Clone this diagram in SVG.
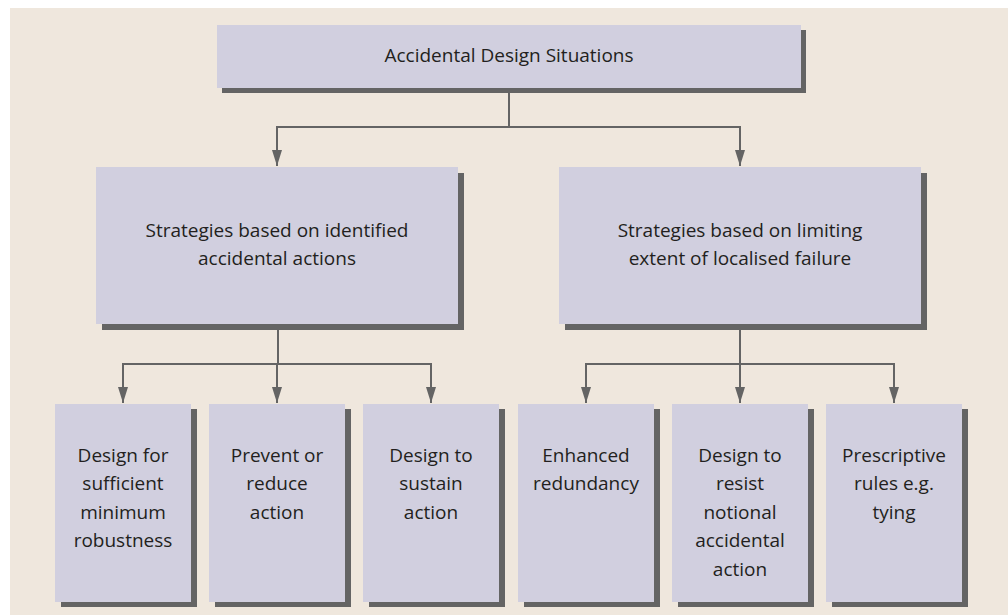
<svg xmlns="http://www.w3.org/2000/svg" width="1008" height="615" viewBox="0 0 1008 615">
  <style>
    .box { fill: #d1cfdf; }
    .shadow { fill: #646464; }
    .lbl { font-family: "Open Sans", "Noto Sans", "Liberation Sans", sans-serif; font-size: 19px; fill: #231f20; text-anchor: middle; }
    .conn { fill: none; stroke: #646464; stroke-width: 2; }
  </style>
  <defs>
    <marker id="ah" markerUnits="userSpaceOnUse" markerWidth="16" markerHeight="10" refX="16" refY="5" orient="auto">
      <path d="M0,0 L16,5 L0,10 Z" fill="#646464"/>
    </marker>
  </defs>
  <rect x="10" y="8" width="998" height="607" fill="#efe7dd"/>

  <g id="connectors">
    <path class="conn" d="M509,93 V127"/>
    <path class="conn" d="M509,127 H277 V166" marker-end="url(#ah)"/>
    <path class="conn" d="M509,127 H740 V166" marker-end="url(#ah)"/>
    <path class="conn" d="M278,330 V364"/>
    <path class="conn" d="M278,364 H123 V403" marker-end="url(#ah)"/>
    <path class="conn" d="M277,364 V403" marker-end="url(#ah)"/>
    <path class="conn" d="M278,364 H431 V403" marker-end="url(#ah)"/>
    <path class="conn" d="M740,330 V364"/>
    <path class="conn" d="M740,364 H586 V403" marker-end="url(#ah)"/>
    <path class="conn" d="M740,364 V403" marker-end="url(#ah)"/>
    <path class="conn" d="M740,364 H894 V403" marker-end="url(#ah)"/>
  </g>

  <g id="n-top">
    <rect class="shadow" x="222" y="30" width="584" height="63"/>
    <rect class="box" x="217" y="25" width="584" height="63"/>
    <text class="lbl" x="509" y="62">Accidental Design Situations</text>
  </g>

  <g id="n-identified">
    <rect class="shadow" x="102" y="173" width="362" height="157"/>
    <rect class="box" x="96" y="167" width="362" height="157"/>
    <text class="lbl" x="277" y="237">Strategies based on identified</text>
    <text class="lbl" x="277" y="265">accidental actions</text>
  </g>

  <g id="n-limiting">
    <rect class="shadow" x="565" y="173" width="362" height="157"/>
    <rect class="box" x="559" y="167" width="362" height="157"/>
    <text class="lbl" x="740" y="237">Strategies based on limiting</text>
    <text class="lbl" x="740" y="265">extent of localised failure</text>
  </g>

  <g id="n-robustness">
    <rect class="shadow" x="61" y="409" width="136" height="198"/>
    <rect class="box" x="55" y="404" width="136" height="198"/>
    <text class="lbl" x="123" y="462">Design for</text>
    <text class="lbl" x="123" y="490.4">sufficient</text>
    <text class="lbl" x="123" y="518.8">minimum</text>
    <text class="lbl" x="123" y="547.2">robustness</text>
  </g>

  <g id="n-prevent">
    <rect class="shadow" x="215" y="409" width="136" height="198"/>
    <rect class="box" x="209" y="404" width="136" height="198"/>
    <text class="lbl" x="277" y="462">Prevent or</text>
    <text class="lbl" x="277" y="490.4">reduce</text>
    <text class="lbl" x="277" y="518.8">action</text>
  </g>

  <g id="n-sustain">
    <rect class="shadow" x="369" y="409" width="136" height="198"/>
    <rect class="box" x="363" y="404" width="136" height="198"/>
    <text class="lbl" x="431" y="462">Design to</text>
    <text class="lbl" x="431" y="490.4">sustain</text>
    <text class="lbl" x="431" y="518.8">action</text>
  </g>

  <g id="n-redundancy">
    <rect class="shadow" x="524" y="409" width="136" height="198"/>
    <rect class="box" x="518" y="404" width="136" height="198"/>
    <text class="lbl" x="586" y="462">Enhanced</text>
    <text class="lbl" x="586" y="490.4">redundancy</text>
  </g>

  <g id="n-resist">
    <rect class="shadow" x="678" y="409" width="136" height="198"/>
    <rect class="box" x="672" y="404" width="136" height="198"/>
    <text class="lbl" x="740" y="462">Design to</text>
    <text class="lbl" x="740" y="490.4">resist</text>
    <text class="lbl" x="740" y="518.8">notional</text>
    <text class="lbl" x="740" y="547.2">accidental</text>
    <text class="lbl" x="740" y="575.6">action</text>
  </g>

  <g id="n-prescriptive">
    <rect class="shadow" x="832" y="409" width="136" height="198"/>
    <rect class="box" x="826" y="404" width="136" height="198"/>
    <text class="lbl" x="894" y="462">Prescriptive</text>
    <text class="lbl" x="894" y="490.4">rules e.g.</text>
    <text class="lbl" x="894" y="518.8">tying</text>
  </g>
</svg>
